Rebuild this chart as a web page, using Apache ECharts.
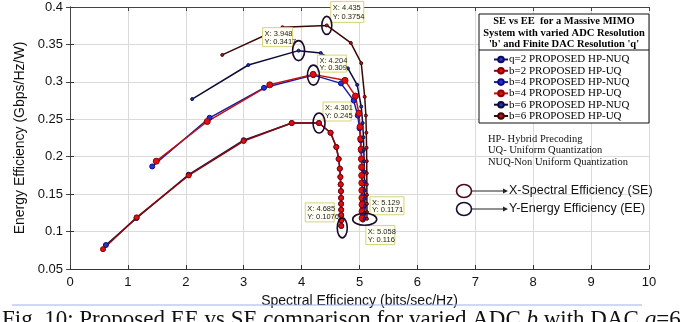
<!DOCTYPE html>
<html>
<head>
<meta charset="utf-8">
<script src="https://cdn.jsdelivr.net/npm/echarts@6/dist/echarts.min.js"></script>
<style>
html,body{margin:0;padding:0;background:#fff;}
#c{width:681px;height:322px;}
</style>
</head>
<body>
<div id="c"></div>
<script>
// ---- Data ----
const seriesNames = [
  'q=2 PROPOSED HP-NUQ',
  'b=2 PROPOSED HP-UQ',
  'b=4 PROPOSED HP-NUQ',
  'b=4 PROPOSED HP-UQ',
  'b=6 PROPOSED HP-NUQ',
  'b=6 PROPOSED HP-UQ'
];
const q2nuqSE = [0.62, 1.15, 2.05, 3.00, 3.83, 4.30, 4.50, 4.60, 4.64, 4.66, 4.67, 4.675, 4.68, 4.682, 4.683, 4.684, 4.684, 4.685, 4.685];
const q2nuqEE = [0.082, 0.118, 0.176, 0.222, 0.245, 0.245, 0.232, 0.213, 0.197, 0.184, 0.173, 0.163, 0.154, 0.145, 0.137, 0.129, 0.122, 0.115, 0.1076];
const b2uqSE  = [0.57, 1.15, 2.05, 3.00, 3.83, 4.30, 4.50, 4.60, 4.64, 4.66, 4.67, 4.675, 4.68, 4.682, 4.683, 4.684, 4.684, 4.685, 4.685];
const b2uqEE  = [0.0765, 0.119, 0.175, 0.221, 0.245, 0.245, 0.232, 0.213, 0.197, 0.184, 0.173, 0.163, 0.154, 0.145, 0.137, 0.129, 0.122, 0.115, 0.1076];
const b4nuqSE = [1.42, 2.41, 3.35, 4.204, 4.68, 4.90, 4.97, 5.00, 5.02, 5.03, 5.04, 5.045, 5.05, 5.052, 5.054, 5.055, 5.056, 5.057, 5.058, 5.058];
const b4nuqEE = [0.187, 0.252, 0.292, 0.309, 0.298, 0.275, 0.255, 0.238, 0.222, 0.208, 0.196, 0.185, 0.175, 0.165, 0.156, 0.147, 0.139, 0.131, 0.123, 0.116];
const b4uqSE  = [1.49, 2.37, 3.45, 4.20, 4.75, 4.93, 4.99, 5.01, 5.02, 5.028, 5.033, 5.036, 5.038, 5.04, 5.041, 5.042, 5.043, 5.044, 5.045];
const b4uqEE  = [0.194, 0.247, 0.296, 0.310, 0.302, 0.281, 0.258, 0.240, 0.224, 0.210, 0.197, 0.186, 0.175, 0.165, 0.155, 0.145, 0.136, 0.127, 0.118];
const b6nuqSE = [2.11, 3.08, 3.948, 4.33, 4.80, 4.96, 5.03, 5.055, 5.068, 5.075, 5.08, 5.084, 5.087, 5.089, 5.09, 5.091, 5.092, 5.092];
const b6nuqEE = [0.277, 0.3225, 0.3417, 0.3385, 0.318, 0.296, 0.267, 0.245, 0.226, 0.209, 0.194, 0.18, 0.167, 0.155, 0.144, 0.134, 0.125, 0.1175];
const b6uqSE  = [2.63, 3.67, 4.435, 4.85, 5.03, 5.09, 5.11, 5.118, 5.122, 5.125, 5.126, 5.127, 5.128, 5.128, 5.129, 5.129];
const b6uqEE  = [0.336, 0.373, 0.3754, 0.352, 0.325, 0.28, 0.255, 0.232, 0.212, 0.194, 0.178, 0.163, 0.149, 0.137, 0.126, 0.1171];
const xTicks = [0, 1, 2, 3, 4, 5, 6, 7, 8, 9, 10];
const yTickMin = 0.05, yTickMax = 0.4, yTickStep = 0.05;

// data tips: [x, y, label lines]
const dataTips = [
  [4.435, 0.3754, 'X: 4.435', 'Y: 0.3754'],
  [3.948, 0.3417, 'X: 3.948', 'Y: 0.3417'],
  [4.204, 0.309,  'X: 4.204', 'Y: 0.309'],
  [4.301, 0.245,  'X: 4.301', 'Y: 0.245'],
  [4.685, 0.1076, 'X: 4.685', 'Y: 0.1076'],
  [5.129, 0.1171, 'X: 5.129', 'Y: 0.1171'],
  [5.058, 0.116,  'X: 5.058', 'Y: 0.116']
];

function pairs(xs, ys){ return xs.map((x,i)=>[x, ys[i]]); }

const chart = echarts.init(document.getElementById('c'), null, {renderer:'canvas'});
const sans = 'Liberation Sans, Arial, sans-serif';
const serif = 'Liberation Serif, Times New Roman, serif';

function mk(name, xs, ys, lineColor, markColor, markBorder, size){
  return {
    name: name, type: 'line', data: pairs(xs, ys),
    symbol: 'circle', symbolSize: size,
    showSymbol: true,
    lineStyle: {color: lineColor, width: 1.5},
    itemStyle: {color: markColor, borderColor: markBorder, borderWidth: 1},
    emphasis: {disabled: true},
    animation: false,
    z: 3
  };
}

const option = {
  animation: false,
  grid: {left: 70, right: 32, top: 7, bottom: 53},
  xAxis: [{
    type: 'value', min: xTicks[0], max: xTicks[xTicks.length-1], interval: 1,
    name: 'Spectral Efficiency (bits/sec/Hz)', nameLocation: 'middle', nameGap: 17,
    nameTextStyle: {fontFamily: sans, fontSize: 14, color: '#111'},
    axisLine: {lineStyle: {color: '#333', width: 1}},
    axisTick: {inside: true, length: 4, lineStyle: {color: '#333'}},
    axisLabel: {fontFamily: sans, fontSize: 13, color: '#111', margin: 7},
    splitLine: {show: true, lineStyle: {color: '#dadada', width: 1}}
  },{
    type: 'value', position: 'top', min: 0, max: 10, interval: 1,
    axisLine: {show: true, lineStyle: {color: '#444', width: 1}},
    axisTick: {show: true, inside: true, length: 4, lineStyle: {color: '#444'}},
    axisLabel: {show: false}, splitLine: {show: false}
  }],
  yAxis: [{
    type: 'value', min: yTickMin, max: yTickMax, interval: yTickStep,
    name: 'Energy Efficiency (Gbps/Hz/W)', nameLocation: 'middle', nameGap: 34,
    nameTextStyle: {fontFamily: sans, fontSize: 14, color: '#111'},
    axisLine: {show: true, lineStyle: {color: '#333', width: 1}},
    axisTick: {show: true, inside: true, length: 4, lineStyle: {color: '#333'}},
    axisLabel: {fontFamily: sans, fontSize: 13, color: '#111', margin: 7,
      formatter: v => String(parseFloat(v.toFixed(2)))},
    splitLine: {show: true, lineStyle: {color: '#dadada', width: 1}}
  },{
    type: 'value', position: 'right', min: yTickMin, max: yTickMax, interval: yTickStep,
    axisLine: {show: true, lineStyle: {color: '#444', width: 1}},
    axisTick: {show: true, inside: true, length: 4, lineStyle: {color: '#444'}},
    axisLabel: {show: false}, splitLine: {show: false}
  }],
  legend: {
    orient: 'vertical', left: 493, top: 54,
    itemWidth: 14, itemHeight: 7, itemGap: 0.3, padding: 0,
    textStyle: {fontFamily: serif, fontSize: 11, color: '#000', lineHeight: 11, padding: [0,0,0,-4]},
    data: seriesNames,
    z: 10
  },
  series: [
    mk(seriesNames[0], q2nuqSE, q2nuqEE, '#14145a', '#2233cc', '#0a0a60', 5),
    mk(seriesNames[1], b2uqSE, b2uqEE, '#8a0a0a', '#dd1111', '#880000', 5),
    mk(seriesNames[2], b4nuqSE, b4nuqEE, '#1a1aa0', '#2233dd', '#0a0a80', 5),
    mk(seriesNames[3], b4uqSE, b4uqEE, '#c01010', '#e01010', '#900000', 6),
    mk(seriesNames[4], b6nuqSE, b6nuqEE, '#0c0c38', '#2233bb', '#0c0c38', 3),
    mk(seriesNames[5], b6uqSE, b6uqEE, '#3a0808', '#cc1111', '#3a0808', 3)
  ]
};
chart.setOption(option);

// ---- Annotations anchored on data points ----
const tipOffsets = [
  [4, -24, 33, 21], [-36, -23, 30, 19], [4, -20, 29, 17], [4, -21, 28, 19],
  [-36, -23, 29, 19], [3, -22, 34, 18], [3, 6, 29, 19]
];
const ellipses = [
  [4.435, 0.3754, 0, 0, 5, 9],
  [3.948, 0.3417, 0, 0, 6, 10],
  [4.204, 0.309, 0, 0, 6, 10],
  [4.301, 0.245, 0, 0, 6, 10],
  [4.685, 0.1076, 1, 2, 5, 10],
  [5.09, 0.1165, 0, 0, 12, 6]
];
const g = [];
dataTips.forEach((t, i) => {
  const p = chart.convertToPixel({gridIndex: 0}, [t[0], t[1]]);
  const o = tipOffsets[i];
  g.push({type: 'rect', shape: {x: p[0]+o[0], y: p[1]+o[1], width: o[2], height: o[3]},
    style: {fill: '#fffff4', stroke: '#d8d27a', lineWidth: 1}, z: 20});
  g.push({type: 'text', x: p[0]+o[0]+2, y: p[1]+o[1]+2,
    style: {text: t[2] + '\n' + t[3], fontFamily: sans, fontSize: 7.5, lineHeight: o[3]/2-1.5, fill: '#222'}, z: 21});
});
ellipses.forEach(e => {
  const p = chart.convertToPixel({gridIndex: 0}, [e[0], e[1]]);
  g.push({type: 'ellipse', shape: {cx: p[0]+e[2], cy: p[1]+e[3], rx: e[4], ry: e[5]},
    style: {fill: null, stroke: '#1c0a28', lineWidth: 1.6}, z: 22});
});

// legend box and title
g.push({type: 'rect', shape: {x: 479, y: 14, width: 170, height: 109},
  style: {fill: '#fff', stroke: '#111', lineWidth: 1}, z: 5});
g.push({type: 'line', shape: {x1: 479, y1: 50, x2: 649, y2: 50},
  style: {stroke: '#111', lineWidth: 1}, z: 6});
g.push({type: 'text', x: 564, y: 16,
  style: {text: 'SE vs EE  for a Massive MIMO\nSystem with varied ADC Resolution\n\'b\' and Finite DAC Resolution \'q\'',
    fontFamily: serif, fontWeight: 'bold', fontSize: 10.5, lineHeight: 11.5, fill: '#000', align: 'center'}, z: 6});
// abbreviations
g.push({type: 'text', x: 488, y: 133,
  style: {text: 'HP- Hybrid Precoding\nUQ- Uniform Quantization\nNUQ-Non Uniform Quantization',
    fontFamily: serif, fontSize: 10.5, lineHeight: 11.8, fill: '#111'}, z: 6});
// SE/EE markers
[[191, '#4a0a1a', 'X-Spectral Efficiency (SE)'], [209, '#1a0a3a', 'Y-Energy Efficiency (EE)']].forEach(r => {
  g.push({type: 'ellipse', shape: {cx: 464, cy: r[0], rx: 7.5, ry: 6.5},
    style: {fill: '#fff', stroke: r[1], lineWidth: 1.6}, z: 6});
  g.push({type: 'line', shape: {x1: 472, y1: r[0], x2: 503, y2: r[0]},
    style: {stroke: '#222', lineWidth: 1}, z: 6});
  g.push({type: 'polygon', shape: {points: [[503, r[0]-2.5], [508, r[0]], [503, r[0]+2.5]]},
    style: {fill: '#222'}, z: 6});
  g.push({type: 'text', x: 509, y: r[0], style: {text: r[2], fontFamily: sans, fontSize: 12.5,
    fill: '#111', verticalAlign: 'middle'}, z: 6});
});
// caption separator and caption
g.push({type: 'line', shape: {x1: 12, y1: 305, x2: 642, y2: 305}, style: {stroke: '#a4aee8', lineWidth: 1}, z: 6});
g.push({type: 'text', x: 2, y: 308, style: {
  text: '{n|Fig. 10: Proposed EE vs SE comparison for varied ADC }{i|b}{n| with DAC }{i|q}{n|=6}',
  rich: {n: {fontFamily: serif, fontSize: 23, fill: '#111'}, i: {fontFamily: serif, fontStyle: 'italic', fontSize: 23, fill: '#111'}}
}, z: 6});

chart.setOption({graphic: g});
</script>
</body>
</html>
